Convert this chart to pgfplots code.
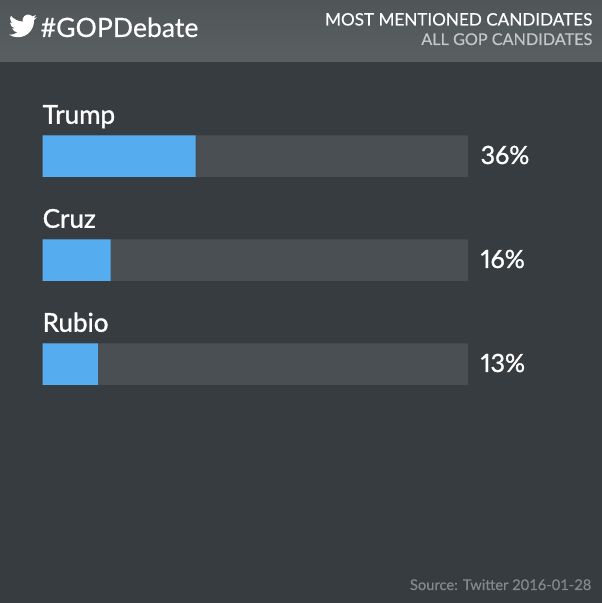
\documentclass[border=0pt]{standalone}
\usepackage{fontspec}
\setmainfont{Lato}
\newfontfamily\latomed[FakeBold=1.2]{Lato}
\newfontfamily\latonum[FakeBold=1.2,Numbers=Proportional]{Lato}
\newfontfamily\latolight[FakeBold=0.4]{Lato}
\usepackage{pgfplots}
\pgfplotsset{compat=1.18}
\usetikzlibrary{svg.path}
\definecolor{bodybg}{HTML}{373C40}
\definecolor{headtop}{HTML}{505558}
\definecolor{headbot}{HTML}{5A5F62}
\definecolor{trackc}{HTML}{4A4F53}
\definecolor{barc}{HTML}{55ACEE}
\definecolor{subc}{HTML}{C4C7C9}
\definecolor{srcc}{HTML}{84888B}
\begin{document}
\begin{tikzpicture}[x=1pt,y=1pt]
\useasboundingbox (0,0) rectangle (602,603);
\fill[bodybg] (0,0) rectangle (602,603);
\shade[bottom color=headbot,top color=headtop] (0,541) rectangle (602,603);
\fill[white,shift={(9,591)},scale=1.16,yscale=-1]
  svg {M23.953 4.57a10 10 0 0 1 -2.825 .775 4.958 4.958 0 0 0 2.163 -2.723c-.951 .555 -2.005 .959 -3.127 1.184a4.92 4.92 0 0 0 -8.384 4.482C7.69 8.095 4.067 6.13 1.64 3.162a4.822 4.822 0 0 0 -.666 2.475c0 1.71 .87 3.213 2.188 4.096a4.904 4.904 0 0 1 -2.228 -.616v.06a4.923 4.923 0 0 0 3.946 4.827 4.996 4.996 0 0 1 -2.212 .085 4.936 4.936 0 0 0 4.604 3.417 9.867 9.867 0 0 1 -6.102 2.105c-.39 0 -.779 -.023 -1.17 -.067a13.995 13.995 0 0 0 7.557 2.209c9.053 0 13.998 -7.496 13.998 -13.985 0 -.21 0 -.42 -.015 -.63A9.935 9.935 0 0 0 24 4.59z};
\node[anchor=base west,inner sep=0,text=white,font=\latolight\fontsize{26.6}{30}\selectfont] at (40.5,566) {\#GOPDebate};
\node[anchor=base east,inner sep=0,text=white,font=\latolight\fontsize{17.1}{20}\selectfont] at (592.5,577.5) {MOST MENTIONED CANDIDATES};
\node[anchor=base east,inner sep=0,text=subc,font=\latolight\fontsize{16.2}{20}\selectfont] at (592.5,558) {ALL GOP CANDIDATES};
\node[anchor=base east,inner sep=0,text=srcc,font=\latolight\fontsize{14.7}{16}\selectfont] at (591.5,13) {Source: Twitter 2016-01-28};
\begin{axis}[
  at={(42.5pt,218.2pt)},anchor=south west,
  scale only axis,width=425.5pt,height=249.6pt,
  xmin=0,xmax=100,ymin=-0.2,ymax=2.2,y dir=reverse,
  hide axis,clip=false,
  xbar,bar shift=0pt,bar width=41.5pt,
]
\addplot[draw=none,fill=trackc,point meta=explicit symbolic,
  nodes near coords,
  every node near coord/.append style={anchor=west,inner sep=0,xshift=12.5pt,yshift=1pt,text=white,font=\latonum\fontsize{25}{28}\selectfont}]
  coordinates {(100,0)[36\%] (100,1)[16\%] (100,2)[13\%]};
\addplot[draw=none,fill=barc] coordinates {(36,0) (16,1) (13,2)};
\node[anchor=base west,inner sep=0,text=white,font=\latomed\fontsize{26}{28}\selectfont] at (axis cs:0,-0.31) {Trump};
\node[anchor=base west,inner sep=0,text=white,font=\latomed\fontsize{26}{28}\selectfont] at (axis cs:0,0.69) {Cruz};
\node[anchor=base west,inner sep=0,text=white,font=\latomed\fontsize{26}{28}\selectfont] at (axis cs:0,1.69) {Rubio};
\end{axis}
\end{tikzpicture}
\end{document}
